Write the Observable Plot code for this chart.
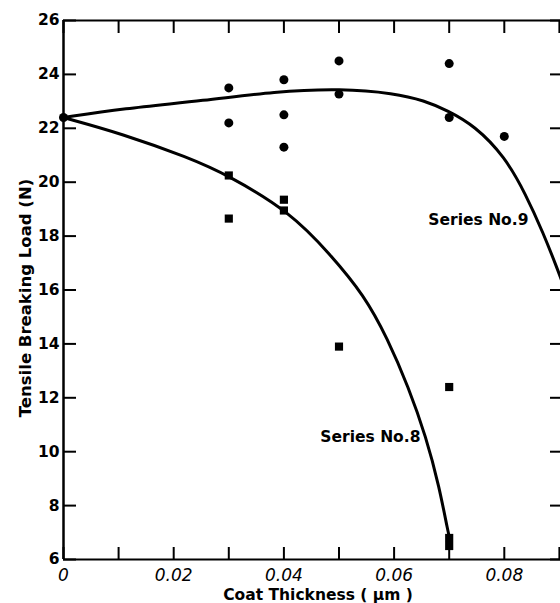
<!DOCTYPE html>
<html><head><meta charset="utf-8">
<script src="https://cdn.jsdelivr.net/npm/d3@7"></script>
<script src="https://cdn.jsdelivr.net/npm/@observablehq/plot@0.6"></script>
<style>body{margin:0;background:#fff} #chart svg{display:block}</style>
</head><body><div id="chart"></div>
<script>
// Tick positions and labels
const xTicks = [0, 0.01, 0.02, 0.03, 0.04, 0.05, 0.06, 0.07, 0.08, 0.09];
const xTickLabels = [0, 0.02, 0.04, 0.06, 0.08];
const yTicks = [6, 8, 10, 12, 14, 16, 18, 20, 22, 24, 26];

// Series No.9 (circles)
const s9X = [0, 0.03, 0.03, 0.04, 0.04, 0.04, 0.05, 0.05, 0.07, 0.07, 0.08];
const s9Y = [22.4, 23.5, 22.2, 23.8, 22.5, 21.3, 24.5, 23.27, 24.4, 22.4, 21.7];
// Series No.8 (squares)
const s8X = [0.03, 0.03, 0.04, 0.04, 0.05, 0.07, 0.07, 0.07];
const s8Y = [20.25, 18.65, 19.35, 18.95, 13.9, 12.4, 6.8, 6.5];

// Fitted curves
const c9X = [0, 0.0106, 0.0257, 0.0383, 0.0505, 0.0600, 0.0655, 0.0697, 0.0746, 0.0801, 0.0839, 0.0871, 0.0896, 0.0905];
const c9Y = [22.4, 22.73, 23.03, 23.37, 23.48, 23.3, 23.03, 22.66, 22.1, 20.95, 19.55, 18.1, 16.8, 16.3];
const c8X = [0, 0.0106, 0.0226, 0.03, 0.0412, 0.0483, 0.0546, 0.0588, 0.0626, 0.0658, 0.0682, 0.0698, 0.0702];
const c8Y = [22.4, 21.8, 20.92, 20.25, 18.88, 17.35, 15.8, 14.2, 12.4, 10.55, 8.7, 7.0, 6.7];

// Series labels
const labelText = ["Series No.9", "Series No.8"];
const labelX = [0.0753, 0.0557];
const labelY = [18.58, 10.53];

const pts9 = s9X.map((x, i) => ({x, y: s9Y[i]}));
const pts8 = s8X.map((x, i) => ({x, y: s8Y[i]}));
const line9 = c9X.map((x, i) => ({x, y: c9Y[i]}));
const line8 = c8X.map((x, i) => ({x, y: c8Y[i]}));
const labels = labelText.map((t, i) => ({t, x: labelX[i], y: labelY[i]}));

const W = 560, H = 603, ML = 63, MR = 0, MT = 20, MB = 44;
const FW = W - ML - MR, FH = H - MT - MB;
const font = "DejaVu Sans";

const chart = Plot.plot({
  width: W, height: H,
  marginLeft: ML, marginRight: MR, marginTop: MT, marginBottom: MB,
  style: {fontFamily: font, background: "white", color: "black"},
  x: {domain: [0, 0.0902], axis: null},
  y: {domain: [6, 26], axis: null},
  marks: [
    // frame lines
    Plot.ruleX([0], {stroke: "black", strokeWidth: 2.5}),
    Plot.ruleY([6], {stroke: "black", strokeWidth: 2}),
    Plot.ruleY([26], {stroke: "black", strokeWidth: 2}),
    // inward ticks
    Plot.tickX(xTicks, {x: d => d, insetTop: FH - 12, stroke: "black", strokeWidth: 2}),
    Plot.tickX(xTicks, {x: d => d, insetBottom: FH - 13, stroke: "black", strokeWidth: 2}),
    Plot.tickY(yTicks, {y: d => d, insetRight: FW - 13, stroke: "black", strokeWidth: 2}),
    Plot.tickY(yTicks, {y: d => d, insetLeft: FW - 10, stroke: "black", strokeWidth: 2}),
    // tick labels
    Plot.text(xTickLabels, {x: d => d, frameAnchor: "bottom", lineAnchor: "middle", dy: 16,
      text: d => d === 0 ? "0" : d.toFixed(2), fontSize: 17, fontStyle: "italic", fill: "black"}),
    Plot.text(yTicks, {y: d => d, frameAnchor: "left", dx: -4, textAnchor: "end", lineAnchor: "middle",
      text: d => String(d), fontSize: 15.5, fontWeight: "bold", fill: "black"}),
    // axis titles
    Plot.text(["Coat Thickness ( \u03bcm )"], {frameAnchor: "bottom", lineAnchor: "middle", textAnchor: "middle",
      dx: 6, dy: 36, fontSize: 15.5, fontWeight: "bold", fill: "black"}),
    Plot.text(["Tensile Breaking Load (N)"], {frameAnchor: "left", textAnchor: "middle", lineAnchor: "middle",
      dx: -38, dy: 8, rotate: -90, fontSize: 16.5, fontWeight: "bold", fill: "black"}),
    // curves
    Plot.line(line9, {x: "x", y: "y", curve: "basis", stroke: "black", strokeWidth: 3, clip: true}),
    Plot.line(line8, {x: "x", y: "y", curve: "basis", stroke: "black", strokeWidth: 3, clip: true}),
    // points
    Plot.dot(pts9, {x: "x", y: "y", r: 4.5, fill: "black", stroke: null}),
    Plot.dot(pts8, {x: "x", y: "y", r: 4.6, symbol: "square", fill: "black", stroke: null}),
    // labels
    Plot.text(labels, {x: "x", y: "y", text: "t", fontSize: 15.5, fontWeight: "bold", fill: "black"})
  ]
});
document.getElementById("chart").appendChild(chart);
</script></body></html>
